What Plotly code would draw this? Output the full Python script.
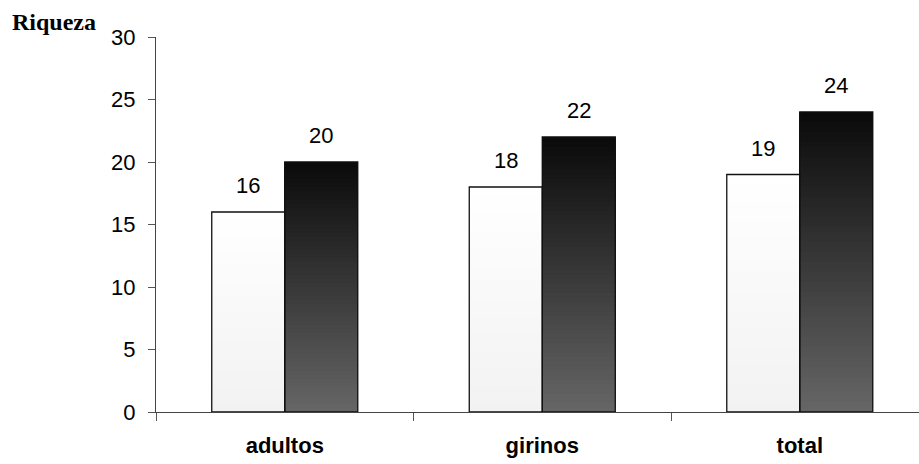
import plotly.graph_objects as go

# Species richness by life stage
categories = ["adultos", "girinos", "total"]
series_a = [16, 18, 19]   # light bars
series_b = [20, 22, 24]   # dark bars
y_ticks = [0, 5, 10, 15, 20, 25, 30]

N_STEPS = 60
BARGAP = 0.433
half_w = (1 - BARGAP) / 2


def lerp_gray(c0, c1, t):
    v = round(c0 + (c1 - c0) * t)
    return f"rgb({v},{v},{v})"


def gradient_traces(values, group, bottom_gray, top_gray):
    """Layer slices from bottom to top; each reaches the bar top so no seams show."""
    traces = []
    for i in range(N_STEPS):
        t = (i + 0.5) / N_STEPS
        traces.append(go.Bar(
            x=categories,
            y=[v * (N_STEPS - i) / N_STEPS for v in values],
            base=[v * i / N_STEPS for v in values],
            offsetgroup=group,
            marker=dict(color=lerp_gray(bottom_gray, top_gray, t), line=dict(width=0)),
            hoverinfo="skip",
            showlegend=False,
        ))
    return traces


fig = go.Figure()
for tr in gradient_traces(series_a, "a", 242, 255):
    fig.add_trace(tr)
for tr in gradient_traces(series_b, "b", 102, 10):
    fig.add_trace(tr)

# Bar outlines
for vals, grp in ((series_a, "a"), (series_b, "b")):
    fig.add_trace(go.Bar(
        x=categories, y=vals, offsetgroup=grp,
        marker=dict(color="rgba(0,0,0,0)", line=dict(color="#111111", width=1.3)),
        hoverinfo="skip", showlegend=False,
    ))

# Value labels above bars
for vals, sign in ((series_a, -1), (series_b, 1)):
    for i, v in enumerate(vals):
        fig.add_annotation(
            x=i + sign * half_w / 2, y=v, xref="x", yref="y",
            text=str(v), showarrow=False, yanchor="bottom", yshift=12,
            font=dict(family="Liberation Sans, Arial", size=22, color="#000000"),
        )

fig.update_layout(
    width=919, height=464,
    margin=dict(l=156, r=0, t=37, b=52),
    barmode="group", bargap=BARGAP, bargroupgap=0,
    paper_bgcolor="white", plot_bgcolor="white",
    title=dict(
        text="<b>Riqueza</b>", xref="container", yref="container",
        x=12 / 919, xanchor="left", y=1 - 22 / 464, yanchor="middle",
        font=dict(family="Liberation Serif, Times New Roman", size=24, color="#000000"),
    ),
    font=dict(family="Liberation Sans, Arial", size=22, color="#000000"),
)

fig.update_xaxes(
    type="category", range=[-0.5, 2.463],
    showline=True, linecolor="#444444", linewidth=1,
    ticks="outside", tickson="boundaries", ticklen=8, tickcolor="#555555",
    tickfont=dict(family="Liberation Sans, Arial", size=22, color="#000000", weight="bold"),
    ticklabelstandoff=14,
    showgrid=False, zeroline=False,
)
fig.update_yaxes(
    range=[0, 30], tickvals=y_ticks,
    showline=True, linecolor="#444444", linewidth=1,
    ticks="outside", ticklen=7, tickcolor="#555555",
    tickfont=dict(family="Liberation Sans, Arial", size=22, color="#000000"),
    ticklabelstandoff=8,
    showgrid=False, zeroline=False,
)

fig.write_html("out.html")
